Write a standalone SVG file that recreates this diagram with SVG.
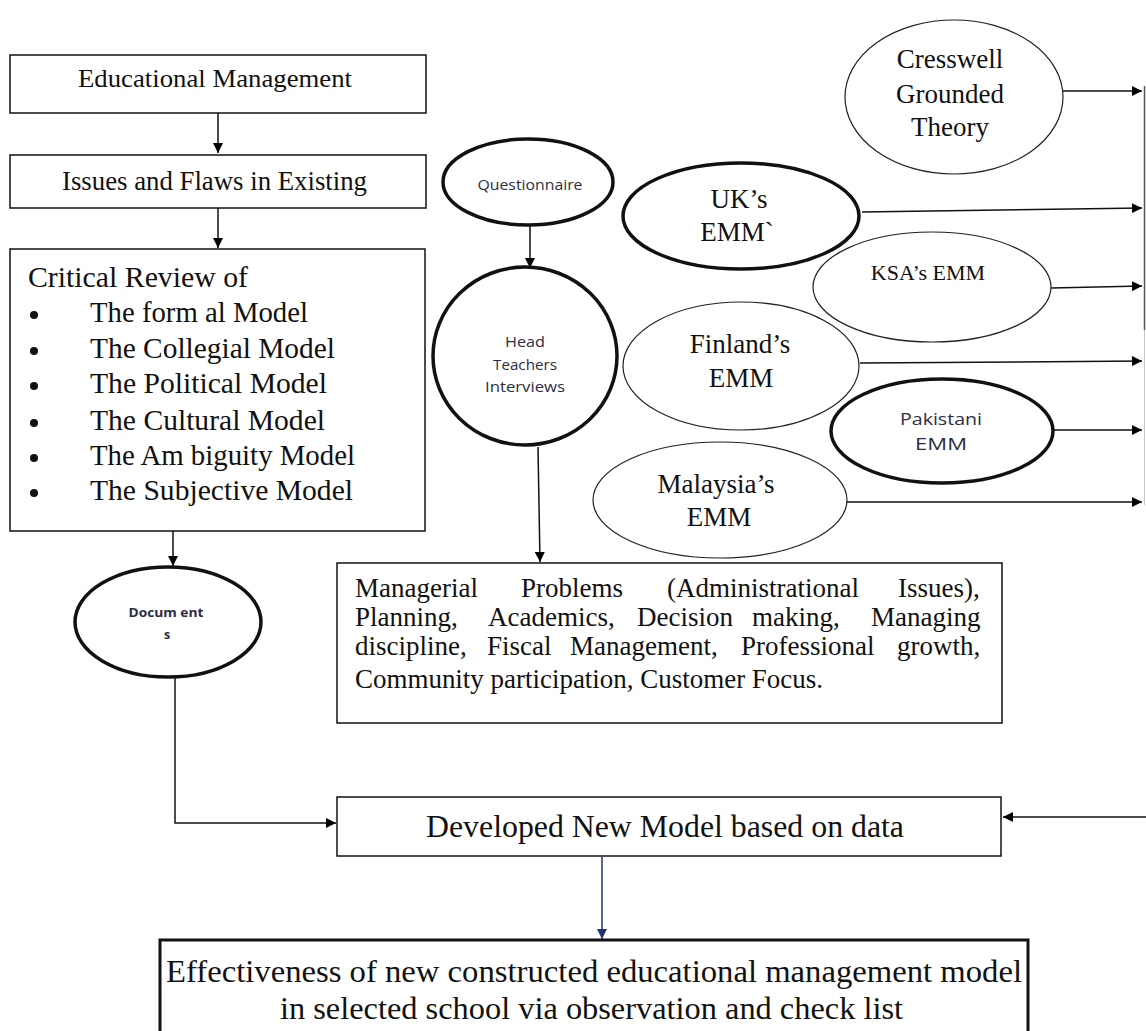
<svg xmlns="http://www.w3.org/2000/svg" width="1146" height="1031" viewBox="0 0 1146 1031">
<defs>
<marker id="ah" viewBox="0 0 10 10" refX="10" refY="5" markerWidth="10" markerHeight="10" markerUnits="userSpaceOnUse" orient="auto"><path d="M0,0 L10,5 L0,10 z" fill="#000"/></marker>
<marker id="ahb" viewBox="0 0 10 10" refX="10" refY="5" markerWidth="10" markerHeight="10" markerUnits="userSpaceOnUse" orient="auto"><path d="M0,0 L10,5 L0,10 z" fill="#1f3470"/></marker>
<style>
.box{fill:#fff;stroke:#111;stroke-width:1.5}
.thick{fill:#fff;stroke:#111;stroke-width:3.5}
.thin{fill:#fff;stroke:#222;stroke-width:1.2}
.serif{font-family:"Liberation Serif","Times New Roman",serif;fill:#111}
.sans{font-family:"Open Sans","Noto Sans","Liberation Sans",sans-serif;fill:#2a2d45}
.c{text-anchor:middle}
.con{fill:none;stroke:#111;stroke-width:1.5}
</style>
</defs>
<rect width="1146" height="1031" fill="#fff"/>

<g id="connectors">
<path class="con" d="M218,113 V153" marker-end="url(#ah)"/>
<path class="con" d="M218,208 V248" marker-end="url(#ah)"/>
<path class="con" d="M173,531 V566" marker-end="url(#ah)"/>
<path class="con" d="M175,677 V823 H336" marker-end="url(#ah)"/>
<path class="con" d="M530,225 V268" marker-end="url(#ah)"/>
<path class="con" d="M538,447 L540,562" marker-end="url(#ah)"/>
<path class="con" d="M1063,91 H1142" marker-end="url(#ah)"/>
<path class="con" d="M862,212 L1142,208" marker-end="url(#ah)"/>
<path class="con" d="M1051,288 L1142,286" marker-end="url(#ah)"/>
<path class="con" d="M860,363 L1142,361" marker-end="url(#ah)"/>
<path class="con" d="M1054,430 H1142" marker-end="url(#ah)"/>
<path class="con" d="M847,502 H1142" marker-end="url(#ah)"/>
<path fill="none" stroke="#555" stroke-width="1.5" d="M1144.5,86 V330"/>
<path fill="none" stroke="#c8c8c8" stroke-width="1" d="M1144.5,330 V505"/>
<path class="con" d="M1146,817 H1003" marker-end="url(#ah)"/>
<path fill="none" stroke="#1f3470" stroke-width="1.5" d="M602,857 V939" marker-end="url(#ahb)"/>
</g>

<g id="educational-management">
<rect class="box" x="10" y="55" width="416" height="58"/>
<text class="serif" x="78" y="87" font-size="26" textLength="274" lengthAdjust="spacingAndGlyphs">Educational  Management</text>
</g>

<g id="issues-flaws">
<rect class="box" x="10" y="155" width="416" height="53"/>
<text class="serif" x="62" y="190" font-size="27" textLength="305" lengthAdjust="spacingAndGlyphs">Issues and Flaws in Existing</text>
</g>

<g id="critical-review">
<rect class="box" x="10" y="249" width="415" height="282"/>
<text class="serif" x="28" y="287" font-size="29" textLength="220" lengthAdjust="spacingAndGlyphs">Critical Review of</text>
<g fill="#111">
<circle cx="34" cy="315" r="4"/>
<circle cx="34" cy="351" r="4"/>
<circle cx="34" cy="386" r="4"/>
<circle cx="34" cy="423" r="4"/>
<circle cx="34" cy="458" r="4"/>
<circle cx="34" cy="493" r="4"/>
</g>
<text class="serif" x="90" y="322" font-size="29" textLength="218" lengthAdjust="spacingAndGlyphs">The form al Model</text>
<text class="serif" x="90" y="358" font-size="29" textLength="245" lengthAdjust="spacingAndGlyphs">The Collegial Model</text>
<text class="serif" x="90" y="393" font-size="29" textLength="237" lengthAdjust="spacingAndGlyphs">The Political Model</text>
<text class="serif" x="90" y="430" font-size="29" textLength="235" lengthAdjust="spacingAndGlyphs">The Cultural Model</text>
<text class="serif" x="90" y="465" font-size="29" textLength="265" lengthAdjust="spacingAndGlyphs">The Am biguity Model</text>
<text class="serif" x="90" y="500" font-size="29" textLength="263" lengthAdjust="spacingAndGlyphs">The Subjective Model</text>
</g>

<g id="documents">
<ellipse class="thick" cx="168" cy="622" rx="93" ry="55"/>
<text class="sans c" x="166" y="617" font-size="12.5" font-weight="bold" textLength="75" lengthAdjust="spacingAndGlyphs">Docum ent</text>
<text class="sans c" x="167" y="639" font-size="12.5" font-weight="bold">s</text>
</g>

<g id="questionnaire">
<ellipse class="thick" cx="528" cy="182" rx="85" ry="43"/>
<text class="sans c" x="530" y="190" font-size="14" textLength="105" lengthAdjust="spacingAndGlyphs">Questionnaire</text>
</g>

<g id="head-teachers">
<ellipse class="thick" cx="525" cy="356" rx="92" ry="89"/>
<text class="sans c" x="525" y="347" font-size="14" textLength="40" lengthAdjust="spacingAndGlyphs">Head</text>
<text class="sans c" x="525" y="370" font-size="14" textLength="64" lengthAdjust="spacingAndGlyphs">Teachers</text>
<text class="sans c" x="525" y="392" font-size="14" textLength="80" lengthAdjust="spacingAndGlyphs">Interviews</text>
</g>

<g id="cresswell">
<ellipse class="thin" cx="954" cy="97" rx="109" ry="77"/>
<text class="serif c" x="950" y="68" font-size="27">Cresswell</text>
<text class="serif c" x="950" y="103" font-size="27">Grounded</text>
<text class="serif c" x="950" y="136" font-size="27">Theory</text>
</g>

<g id="uk-emm">
<ellipse class="thick" cx="741" cy="216" rx="118" ry="53"/>
<text class="serif c" x="739" y="208" font-size="27">UK’s</text>
<text class="serif c" x="737" y="241" font-size="27">EMM`</text>
</g>

<g id="ksa-emm">
<ellipse class="thin" cx="932" cy="287" rx="119" ry="55"/>
<text class="serif c" x="928" y="280" font-size="22">KSA’s EMM</text>
</g>

<g id="finland-emm">
<ellipse class="thin" cx="741" cy="366" rx="118" ry="64"/>
<text class="serif c" x="740" y="353" font-size="27">Finland’s</text>
<text class="serif c" x="741" y="387" font-size="27">EMM</text>
</g>

<g id="pakistani-emm">
<ellipse class="thick" cx="942" cy="431" rx="111" ry="52"/>
<text class="sans c" x="941" y="425" font-size="16" textLength="82" lengthAdjust="spacingAndGlyphs">Pakistani</text>
<text class="sans c" x="941" y="450" font-size="16" textLength="52" lengthAdjust="spacingAndGlyphs">EMM</text>
</g>

<g id="malaysia-emm">
<ellipse class="thin" cx="720" cy="500" rx="127" ry="58"/>
<text class="serif c" x="716" y="493" font-size="27">Malaysia’s</text>
<text class="serif c" x="719" y="526" font-size="27">EMM</text>
</g>

<g id="managerial-problems">
<rect class="box" x="337" y="563" width="665" height="160"/>
<text class="serif" font-size="27">
<tspan x="355" y="597">Managerial</tspan><tspan x="521" y="597">Problems</tspan><tspan x="667" y="597">(Administrational</tspan><tspan x="898" y="597">Issues),</tspan>
<tspan x="355" y="626">Planning,</tspan><tspan x="488" y="626">Academics,</tspan><tspan x="637" y="626">Decision</tspan><tspan x="752" y="626">making,</tspan><tspan x="871" y="626">Managing</tspan>
<tspan x="355" y="655">discipline,</tspan><tspan x="487" y="655">Fiscal</tspan><tspan x="570" y="655">Management,</tspan><tspan x="741" y="655">Professional</tspan><tspan x="897" y="655">growth,</tspan>
</text>
<text class="serif" x="355" y="688" font-size="27" textLength="468" lengthAdjust="spacingAndGlyphs">Community participation, Customer Focus.</text>
</g>

<g id="developed-model">
<rect class="box" x="337" y="797" width="664" height="59"/>
<text class="serif" x="426" y="837" font-size="31" textLength="478" lengthAdjust="spacingAndGlyphs">Developed New Model based on data</text>
</g>

<g id="effectiveness">
<rect fill="#fff" stroke="#111" stroke-width="3" x="160" y="940" width="868" height="100"/>
<text class="serif" x="166" y="982" font-size="32" textLength="856" lengthAdjust="spacingAndGlyphs">Effectiveness of new constructed educational management model</text>
<text class="serif" x="280" y="1019" font-size="32" textLength="623" lengthAdjust="spacingAndGlyphs">in selected school via observation and check list</text>
</g>
</svg>
